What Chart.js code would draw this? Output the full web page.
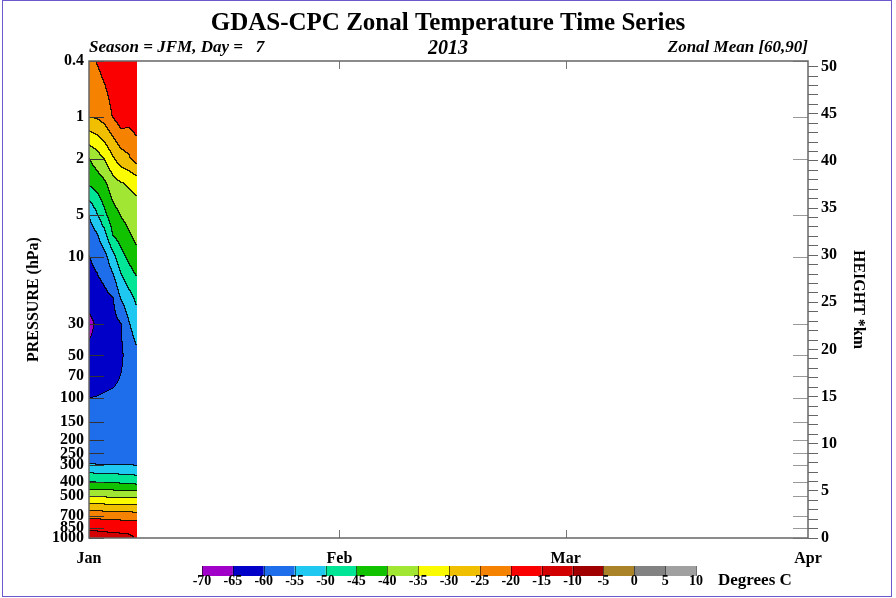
<!DOCTYPE html>
<html>
<head>
<meta charset="utf-8">
<title>GDAS-CPC Zonal Temperature Time Series</title>
<script src="https://cdn.jsdelivr.net/npm/chart.js@4.4.0/dist/chart.umd.min.js"></script>
<style>
  html, body { margin: 0; padding: 0; background: #fff; }
  #wrap { width: 896px; height: 598px; }
</style>
</head>
<body>
<div id="wrap"><canvas id="chart" width="896" height="598"></canvas></div>
<script>
// pressure levels (hPa) of the analysis, top to bottom
const levels = [0.4, 1, 2, 3, 5, 7, 10, 20, 30, 50, 70, 100, 150, 200, 250, 300, 400, 500, 700, 850, 925, 1000];

// zonal mean temperature (deg C), one array per day, same order as levels
const tempJan1 = [-21, -24.7, -40.2, -44.3, -55.2, -57.6, -60.2, -62.8, -66.8, -63.5, -62, -60.1, -58.1, -56.9, -55.9, -54.9, -45, -35.8, -21.3, -15.5, -14.5, -13.5];
const tempJan2 = [-19.8, -24.4, -37.6, -42.9, -50.6, -55.7, -58.6, -62.5, -64.2, -63, -61.8, -59.9, -58, -57, -56, -55, -45.3, -36, -21.5, -15.7, -14.6, -13.6];
const tempJan3 = [-18, -22.8, -34.7, -40.9, -45.9, -51.6, -56.5, -61.5, -63.2, -62.5, -61.3, -59.6, -58, -57, -56, -55.2, -45.5, -36.2, -21.7, -15.9, -14.8, -13.7];
const tempJan4 = [-16.5, -19.8, -30.7, -37.1, -42.1, -44.9, -51.7, -60.5, -61.5, -61.8, -61, -59.3, -58, -57, -56, -55.3, -45.7, -36.4, -21.9, -16.1, -14.9, -13.8];
const tempJan5 = [-15.8, -17, -27.5, -35.4, -39.7, -42.7, -46.8, -54.9, -60.2, -60.8, -59.9, -58.9, -57.8, -57, -56, -55.3, -46, -36.6, -22.1, -16.3, -15.1, -13.9];
const tempJan6 = [-15.5, -18, -25.7, -34.4, -38.2, -40.5, -43.7, -52, -55.3, -58, -58.7, -58.5, -57.8, -57, -56, -55.4, -46.4, -36.8, -22.3, -16.5, -15.2, -14.4];
const tempJan7 = [-15.5, -17.5, -22.5, -33.5, -37, -38.7, -41.2, -48.9, -52.5, -55.8, -56.8, -57.5, -57.5, -57, -56.2, -55.5, -46.8, -36.9, -22.4, -17, -16.2, -15.2];

// days since Jan 1 for each array above
const days = [0, 1, 2, 3, 4, 5, 6];
const dayTemps = [tempJan1, tempJan2, tempJan3, tempJan4, tempJan5, tempJan6, tempJan7];

// axes
const pressureTicks = [0.4, 1, 2, 5, 10, 30, 50, 70, 100, 150, 200, 250, 300, 400, 500, 700, 850, 1000];
const monthDays = [0, 31, 59, 89];
const monthNames = ['Jan', 'Feb', 'Mar', 'Apr'];
const heightLabels = [0, 5, 10, 15, 20, 25, 30, 35, 40, 45, 50];
const heightTop = 50.6; // km at 0.4 hPa

// shading
const shadeLevels = [-70, -65, -60, -55, -50, -45, -40, -35, -30, -25, -20, -15, -10, -5, 0, 5, 10];
const shadeColors = ['#a000c8', '#0000c8', '#1e6eeb', '#1ec8f0', '#00e696', '#10c200', '#a0e632', '#fafa00',
  '#f0c000', '#f58200', '#fa0000', '#d20000', '#a00000', '#aa8228', '#828282', '#a0a0a0'];

const serif = '"Liberation Serif", "DejaVu Serif", serif';

function tempAt(d, p) {
  const lp = Math.log(p);
  let k = 0;
  while (k < levels.length - 2 && Math.log(levels[k + 1]) < lp) k++;
  const l0 = Math.log(levels[k]), l1 = Math.log(levels[k + 1]);
  const f = Math.min(1, Math.max(0, (lp - l0) / (l1 - l0)));
  let i = 0;
  while (i < days.length - 2 && days[i + 1] < d) i++;
  const g = Math.min(1, Math.max(0, (d - days[i]) / (days[i + 1] - days[i])));
  const a = dayTemps[i][k] * (1 - f) + dayTemps[i][k + 1] * f;
  const b = dayTemps[i + 1][k] * (1 - f) + dayTemps[i + 1][k + 1] * f;
  return a * (1 - g) + b * g;
}

function bandOf(t) {
  let b = 0;
  while (b < shadeColors.length - 1 && t >= shadeLevels[b + 1]) b++;
  return b;
}

function hexRgb(h) {
  return [parseInt(h.slice(1, 3), 16), parseInt(h.slice(3, 5), 16), parseInt(h.slice(5, 7), 16)];
}

// shaded contours + contour lines, drawn through the chart scales
const contourShading = {
  id: 'contourShading',
  beforeDatasetsDraw(chart) {
    const { ctx, chartArea, scales: { x, y } } = chart;
    const x0 = Math.round(x.getPixelForValue(days[0]));
    const x1 = Math.round(x.getPixelForValue(days[days.length - 1]));
    const top = Math.round(chartArea.top), bottom = Math.round(chartArea.bottom);
    const w = x1 - x0, h = bottom - top;
    const band = new Int16Array(w * h);
    for (let i = 0; i < w; i++) {
      const d = x.getValueForPixel(x0 + i + 0.5);
      for (let j = 0; j < h; j++) {
        const p = y.getValueForPixel(top + j + 0.5);
        band[j * w + i] = bandOf(tempAt(d, p));
      }
    }
    const rgb = shadeColors.map(hexRgb);
    const img = ctx.createImageData(w, h);
    for (let j = 0; j < h; j++) {
      for (let i = 0; i < w; i++) {
        const b = band[j * w + i];
        let c = rgb[b];
        const edge = (i < w - 1 && band[j * w + i + 1] !== b) || (j < h - 1 && band[(j + 1) * w + i] !== b);
        if (edge) c = [c[0] * 0.15, c[1] * 0.15, c[2] * 0.15];
        const o = (j * w + i) * 4;
        img.data[o] = c[0]; img.data[o + 1] = c[1]; img.data[o + 2] = c[2]; img.data[o + 3] = 255;
      }
    }
    ctx.putImageData(img, x0, top);
  },
  afterDatasetsDraw(chart) {
    const { ctx, chartArea: a, scales: { x, y } } = chart;
    ctx.save();
    ctx.lineWidth = 1;
    // pressure ticks, inside the frame on both sides
    pressureTicks.forEach(p => {
      const py = Math.round(y.getPixelForValue(p)) + 0.5;
      ctx.strokeStyle = '#333';
      ctx.beginPath(); ctx.moveTo(a.left, py); ctx.lineTo(a.left + 15, py); ctx.stroke();
      ctx.strokeStyle = '#999';
      ctx.beginPath(); ctx.moveTo(a.right - 15, py); ctx.lineTo(a.right, py); ctx.stroke();
    });
    // month ticks
    ctx.strokeStyle = '#777';
    monthDays.slice(1, -1).forEach(d => {
      const px = Math.round(x.getPixelForValue(d)) + 0.5;
      ctx.beginPath(); ctx.moveTo(px, a.top); ctx.lineTo(px, a.top + 8); ctx.stroke();
      ctx.beginPath(); ctx.moveTo(px, a.bottom); ctx.lineTo(px, a.bottom - 8); ctx.stroke();
    });
    ctx.strokeStyle = '#666';
    ctx.lineWidth = 1.5;
    ctx.strokeRect(a.left, a.top, a.right - a.left, a.bottom - a.top);
    ctx.restore();
  },
  afterDraw(chart) {
    const { ctx, chartArea: a } = chart;
    ctx.save();
    // header line
    ctx.fillStyle = '#000';
    ctx.textBaseline = 'middle';
    ctx.font = 'italic bold 17px ' + serif;
    ctx.textAlign = 'left';
    ctx.fillText('Season = JFM, Day =   7', a.left, 48);
    ctx.textAlign = 'right';
    ctx.fillText('Zonal Mean [60,90]', a.right, 48);

    // colour bar
    const cbLeft = 202, cbRight = 696, cbTop = 566, cbH = 10;
    const cw = (cbRight - cbLeft) / shadeColors.length;
    shadeColors.forEach((c, i) => {
      ctx.fillStyle = c;
      ctx.fillRect(cbLeft + i * cw, cbTop, cw, cbH);
    });
    ctx.strokeStyle = 'rgba(0,0,0,0.55)';
    ctx.lineWidth = 1;
    for (let i = 0; i <= shadeColors.length; i++) {
      const px = Math.round(cbLeft + i * cw) + 0.5;
      ctx.beginPath(); ctx.moveTo(px, cbTop); ctx.lineTo(px, cbTop + cbH); ctx.stroke();
    }
    ctx.fillStyle = '#000';
    ctx.font = 'bold 14px ' + serif;
    ctx.textAlign = 'center';
    shadeLevels.forEach((v, i) => ctx.fillText(String(v), cbLeft + i * cw, 581));
    ctx.font = 'bold 17px ' + serif;
    ctx.textAlign = 'left';
    ctx.fillText('Degrees C', 718, 581);

    // page border
    ctx.strokeStyle = '#6a5acd';
    ctx.lineWidth = 1;
    ctx.strokeRect(2.5, 0.5, 889, 596);
    ctx.restore();
  }
};

const gridPoints = [];
days.forEach(d => levels.forEach(p => gridPoints.push({ x: d, y: p })));

const tickFont = { family: serif, size: 16, weight: 'bold' };

const chart = new Chart(document.getElementById('chart'), {
  type: 'scatter',
  data: {
    datasets: [{ data: gridPoints, pointRadius: 0, showLine: false, xAxisID: 'x', yAxisID: 'y' }]
  },
  options: {
    responsive: false,
    animation: false,
    events: [],
    layout: { padding: 0 },
    plugins: {
      legend: { display: false },
      tooltip: { enabled: false },
      title: {
        display: true,
        text: 'GDAS-CPC Zonal Temperature Time Series',
        color: '#000',
        font: { family: serif, size: 25, weight: 'bold', lineHeight: 1.2 },
        padding: { top: 9, bottom: 0 }
      },
      subtitle: {
        display: true,
        text: '2013',
        color: '#000',
        font: { family: serif, size: 20, weight: 'bold', style: 'italic', lineHeight: 1 },
        padding: { top: 0, bottom: 2 }
      }
    },
    scales: {
      x: {
        type: 'linear',
        position: 'bottom',
        min: 0,
        max: 89,
        afterBuildTicks: s => { s.ticks = monthDays.map(v => ({ value: v })); },
        afterFit: s => { s.height = 60; },
        grid: { display: false, drawTicks: false },
        border: { display: false },
        ticks: {
          autoSkip: false,
          maxRotation: 0,
          padding: 11,
          color: '#000',
          font: tickFont,
          callback: (v, i) => monthNames[i]
        }
      },
      y: {
        type: 'logarithmic',
        position: 'left',
        reverse: true,
        min: 0.4,
        max: 1000,
        afterBuildTicks: s => { s.ticks = pressureTicks.map(v => ({ value: v })); },
        afterFit: s => { s.width = 89; },
        grid: { display: false, drawTicks: false },
        border: { display: false },
        ticks: { autoSkip: false, padding: 5, color: '#000', font: tickFont, callback: v => String(v) },
        title: {
          display: true,
          text: 'PRESSURE (hPa)',
          color: '#000',
          font: { family: serif, size: 16, weight: 'bold' },
          padding: { top: 24, bottom: 0 }
        }
      },
      y2: {
        type: 'linear',
        position: 'right',
        min: 0,
        max: heightTop,
        afterBuildTicks: s => {
          const t = [];
          for (let k = 0; k <= heightLabels[heightLabels.length - 1]; k++) t.push({ value: k });
          s.ticks = t;
        },
        afterFit: s => { s.width = 88; },
        grid: { drawOnChartArea: false, drawTicks: true, tickLength: 10, color: '#666', lineWidth: 1 },
        border: { display: false },
        ticks: {
          autoSkip: false,
          padding: 3,
          color: '#000',
          font: tickFont,
          callback: v => heightLabels.includes(v) ? String(v) : ''
        },
        title: {
          display: true,
          text: 'HEIGHT *km',
          color: '#000',
          font: { family: serif, size: 16, weight: 'bold' },
          padding: { top: 28, bottom: 0 }
        }
      }
    }
  },
  plugins: [contourShading]
});
</script>
</body>
</html>
